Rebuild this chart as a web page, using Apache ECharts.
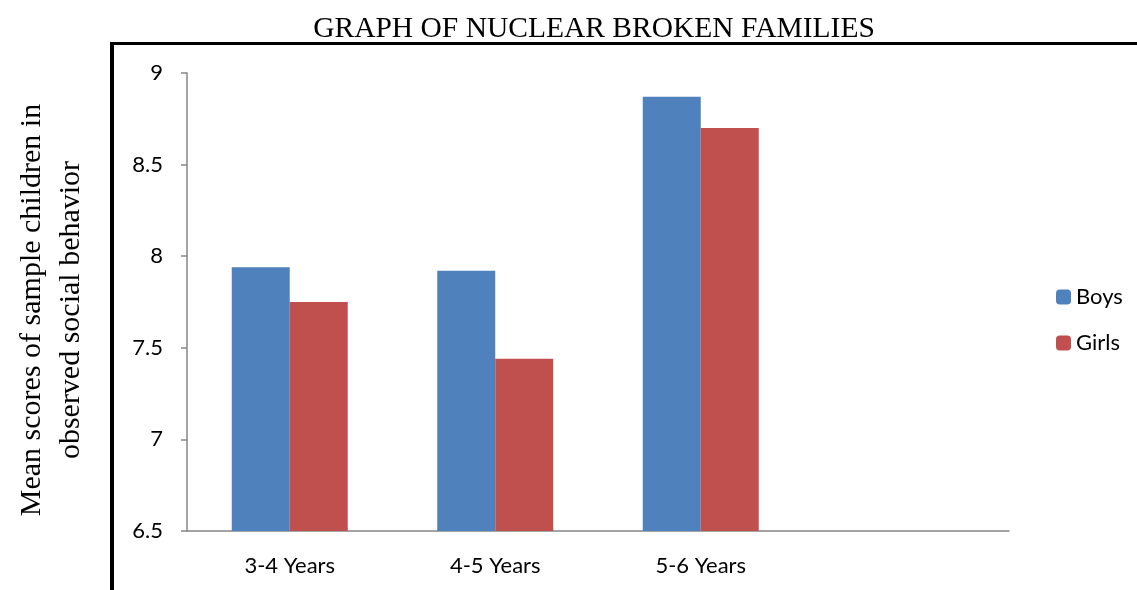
<!DOCTYPE html>
<html><head><meta charset="utf-8">
<script src="https://cdn.jsdelivr.net/npm/echarts@6/dist/echarts.min.js"></script>
<style>html,body{margin:0;padding:0;background:#fff}#c{width:1137px;height:590px}</style>
</head><body><div id="c"></div>
<script>
const categories = ['3-4 Years', '4-5 Years', '5-6 Years', ''];
const boys = [7.94, 7.92, 8.87, null];
const girls = [7.75, 7.44, 8.70, null];
const yTicks = { min: 6.5, max: 9, interval: 0.5 };

const chart = echarts.init(document.getElementById('c'));
chart.setOption({
  animation: false,
  backgroundColor: '#fff',
  title: {
    text: 'GRAPH OF NUCLEAR BROKEN FAMILIES',
    left: 589, top: 9, textAlign: 'center',
    textStyle: { fontFamily: 'Liberation Serif', fontSize: 29.5, fontWeight: 'normal', color: '#000' }
  },
  graphic: [
    { type: 'rect', shape: { x: 110, y: 42, width: 4, height: 560 }, style: { fill: '#000' } },
    { type: 'rect', shape: { x: 110, y: 42, width: 1040, height: 3 }, style: { fill: '#000' } },
    { type: 'text', x: 52, y: 310, rotation: Math.PI / 2, style: {
        text: 'Mean scores of sample children in\nobserved social behavior',
        font: '30px "Liberation Serif"', fill: '#000', align: 'center', verticalAlign: 'middle', lineHeight: 39 } }
  ],
  legend: {
    orient: 'vertical', left: 1051, top: 281, itemWidth: 15, itemHeight: 15, itemGap: 24,
    textStyle: { fontFamily: 'Lato', fontSize: 22, color: '#000' },
    data: ['Boys', 'Girls']
  },
  grid: { left: 187, top: 73, right: 128, bottom: 59, containLabel: false },
  xAxis: {
    type: 'category', data: categories,
    axisLine: { lineStyle: { color: '#868686', width: 1.5 } },
    axisTick: { length: 8, lineStyle: { color: '#868686', width: 1.5 } },
    axisLabel: { margin: 24, fontFamily: 'Lato', fontSize: 22, color: '#000' }
  },
  yAxis: {
    type: 'value', min: yTicks.min, max: yTicks.max, interval: yTicks.interval,
    axisLine: { show: true, lineStyle: { color: '#868686', width: 1.5 } },
    axisTick: { show: true, length: 6, lineStyle: { color: '#868686', width: 1.5 } },
    splitLine: { show: false },
    axisLabel: { margin: 24, fontFamily: 'Lato', fontSize: 22, color: '#000' }
  },
  series: [
    { name: 'Boys', type: 'bar', data: boys, barWidth: 58, barGap: '0%',
      itemStyle: { color: '#4F81BD' } },
    { name: 'Girls', type: 'bar', data: girls, barWidth: 58,
      itemStyle: { color: '#C0504D' } }
  ]
});
</script></body></html>
